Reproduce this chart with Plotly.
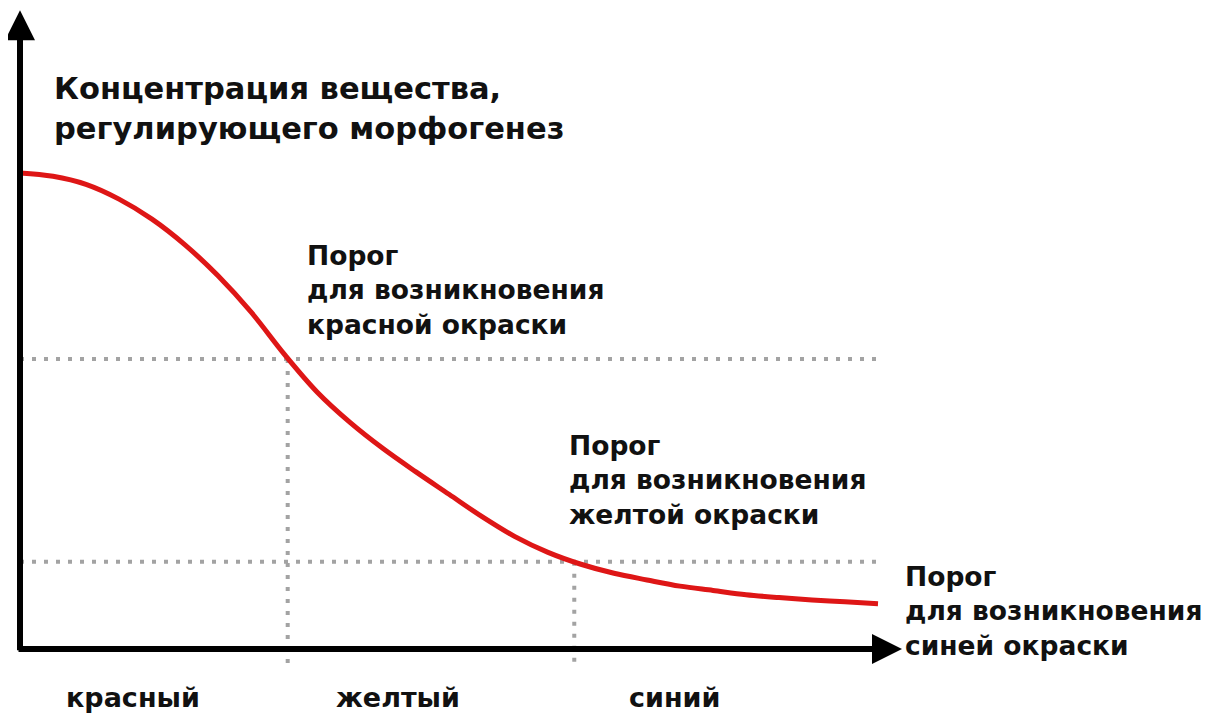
import plotly.graph_objects as go

# ---- data (position along the tissue, 0..100; concentration, 0..100) ----
position = [0.0, 3.85, 7.69, 11.54, 15.38, 19.23, 23.08, 26.92, 30.77, 34.62, 38.46,
            42.31, 46.15, 50.0, 53.85, 57.69, 61.54, 65.38, 69.23, 73.08, 76.92,
            80.77, 84.62, 88.46, 92.31, 96.15, 100.0]
concentration = [100.0, 99.3, 97.6, 94.5, 90.3, 84.9, 78.4, 70.8, 62.0, 54.0, 47.6,
                 42.1, 37.2, 32.5, 27.8, 23.6, 20.3, 17.8, 15.9, 14.5, 13.2,
                 12.3, 11.4, 10.8, 10.3, 9.9, 9.5]

threshold_names = ["красной", "желтой", "синей"]
threshold_levels = [60.9, 18.3]          # red, yellow thresholds
threshold_positions = [31.2, 64.6]       # where the curve crosses them
zone_labels = ["красный", "желтый", "синий"]
y_title = "Концентрация вещества,<br>регулирующего морфогенез"

# the page has an 8px body margin, figure is sized to fit the window
X_MIN, X_MAX = -1.3986, 138.81
Y_MIN, Y_MAX = -14.08, 134.66

FONT = "DejaVu Sans, Liberation Sans, Arial, sans-serif"
DOT_COLOR = "#a3a3a3"

fig = go.Figure()

# dotted threshold guides
for lvl, pos in zip(threshold_levels, threshold_positions):
    fig.add_trace(go.Scatter(x=[0, 100], y=[lvl, lvl], mode="lines",
                             line=dict(color=DOT_COLOR, width=4, dash="4px,8px"),
                             hoverinfo="skip"))
    fig.add_trace(go.Scatter(x=[pos, pos], y=[lvl, -3.4], mode="lines",
                             line=dict(color=DOT_COLOR, width=4, dash="4px,8px"),
                             hoverinfo="skip"))

# concentration curve
fig.add_trace(go.Scatter(x=position, y=concentration, mode="lines",
                         line=dict(color="rgb(222,22,22)", width=5, shape="spline", smoothing=1.0),
                         hoverinfo="skip"))

annotations = []
# axes with arrows
annotations.append(dict(x=0, y=134.2, ax=0, ay=-0.6, xref="x", yref="y", axref="x", ayref="y",
                        text="", showarrow=True, arrowhead=2, arrowsize=1, arrowwidth=6,
                        arrowcolor="#000", standoff=0))
annotations.append(dict(x=102.8, y=0, ax=-0.35, ay=0, xref="x", yref="y", axref="x", ayref="y",
                        text="", showarrow=True, arrowhead=2, arrowsize=1, arrowwidth=6,
                        arrowcolor="#000", standoff=0))

# titles / labels
annotations.append(dict(x=3.73, y=113.5, xref="x", yref="y", text="<b>" + y_title + "</b>",
                        showarrow=False, xanchor="left", yanchor="middle", align="left",
                        font=dict(family=FONT, size=30.5, color="#111")))

thr_text_pos = [(33.2, 75.4), (63.75, 35.5), (102.9, 8.0)]
for name, (tx, ty) in zip(threshold_names, thr_text_pos):
    annotations.append(dict(x=tx, y=ty, xref="x", yref="y",
                            text="<b>Порог<br>для возникновения<br>" + name + " окраски</b>",
                            showarrow=False, xanchor="left", yanchor="middle", align="left",
                            font=dict(family=FONT, size=26.5, color="#111")))

zone_x = [13.2, 44.1, 76.3]
for lab, zx in zip(zone_labels, zone_x):
    annotations.append(dict(x=zx, y=-10.1, xref="x", yref="y", text="<b>" + lab + "</b>",
                            showarrow=False, xanchor="center", yanchor="middle",
                            font=dict(family=FONT, size=27, color="#111")))

fig.update_layout(
    width=1203, height=708,
    margin=dict(l=0, r=0, t=0, b=0),
    paper_bgcolor="white", plot_bgcolor="white",
    showlegend=False,
    xaxis=dict(range=[X_MIN, X_MAX], visible=False, fixedrange=True),
    yaxis=dict(range=[Y_MIN, Y_MAX], visible=False, fixedrange=True),
    annotations=annotations,
)

fig.write_html("out.html")
